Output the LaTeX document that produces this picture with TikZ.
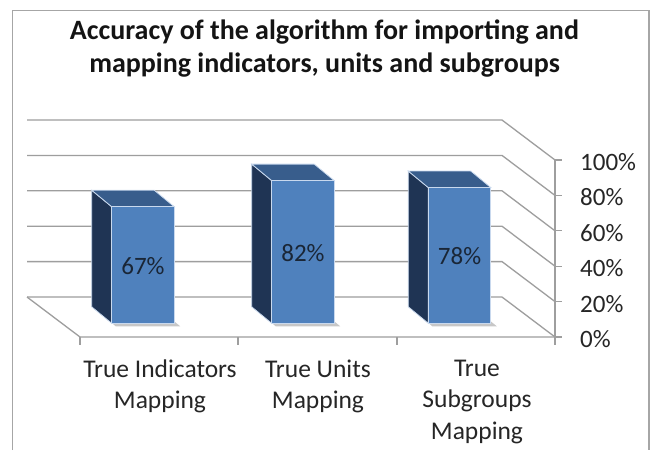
\documentclass[tikz,border=0pt]{standalone}
\usepackage{fontspec}
\setmainfont{Carlito}
\begin{document}
\begin{tikzpicture}[x=1pt,y=-1pt,
  gridline/.style={draw=black!38,line width=1.3pt},
  framebox/.style={draw=black!35,line width=1.3pt},
  frontface/.style={fill=barfront,draw=baredge,line width=1pt},
  sideface/.style={fill=barside,draw=baredge,line width=0.8pt},
  topface/.style={fill=bartop,draw=baredge,line width=0.8pt},
  barshadow/.style={fill=black!22,draw=none},
  tick/.style={draw=black!38,line width=1.3pt},
  valuelabel/.style={font=\fontsize{25}{30}\selectfont,text=labelcol,inner sep=0pt},
  catlabel/.style={font=\fontsize{25.5}{31.5}\selectfont,text=txtcol,align=center,inner sep=0pt,anchor=base},
  axislabel/.style={font=\fontsize{25}{30}\selectfont,text=txtcol,inner sep=0pt,anchor=west},
  titlelabel/.style={font=\fontsize{28}{33}\selectfont\bfseries,text=black!92,align=center,inner sep=0pt,anchor=base}
]
\definecolor{barfront}{HTML}{4F81BD}
\definecolor{barside}{HTML}{1F3454}
\definecolor{bartop}{HTML}{385D8C}
\definecolor{baredge}{HTML}{C9D9EE}
\definecolor{labelcol}{HTML}{1A2636}
\definecolor{txtcol}{HTML}{262626}
\useasboundingbox (0,0) rectangle (653,450);
\fill[white] (0,0) rectangle (653,450);
% frame
\draw[framebox] (12.7,450) -- (12.7,10.7) -- (649,10.7) -- (649,450);
% title (base anchor = last line baseline)
\node[titlelabel] (title) at (324.5,72) {Accuracy of the algorithm for importing and\\mapping indicators, units and subgroups};
% back wall grid lines with side diagonals
\foreach \k in {1,...,5}{
  \draw[gridline] (27,{297-35.4*\k}) -- (502,{297-35.4*\k}) -- (555,{337-35.4*\k});
}
% floor
\draw[gridline] (27,297) -- (502,297) -- (555,337);
\draw[gridline] (27,297) -- (80,337) -- (555,337);
% value axis
\draw[tick] (555,{337-35.4*5}) -- (555,337);
\foreach \k in {0,...,5}{
  \draw[tick] (555,{337-35.4*\k}) -- (562,{337-35.4*\k});
}
% category ticks
\foreach \xx in {80,238,397,555}{
  \draw[tick] (\xx,337) -- (\xx,345);
}
% axis labels
\node[axislabel] (p0)   at (580,{339-35.4*0}) {0\%};
\node[axislabel] (p20)  at (580,{339-35.4*1}) {20\%};
\node[axislabel] (p40)  at (580,{339-35.4*2}) {40\%};
\node[axislabel] (p60)  at (580,{339-35.4*3}) {60\%};
\node[axislabel] (p80)  at (580,{339-35.4*4}) {80\%};
\node[axislabel] (p100) at (580,{339-35.4*5}) {100\%};
% bars
\foreach \L/\v/\nm/\txt in {111.7/0.67/vA/67\%, 271.7/0.82/vB/82\%, 428.3/0.78/vC/78\%}{
  \pgfmathsetmacro{\yt}{323.3-174*\v}
  \pgfmathsetmacro{\R}{\L+62.5}
  % shadow
  \fill[barshadow] (\L-20+5,323.3-16.5+3) -- (\R-20+6,323.3-16.5+3) -- (\R+6,323.3+3) -- (\L+4,323.3+3) -- cycle;
  % side face
  \filldraw[sideface] (\L,\yt) -- (\L-20,\yt-16.5) -- (\L-20,323.3-16.5) -- (\L,323.3) -- cycle;
  % top face
  \filldraw[topface] (\L,\yt) -- (\L-20,\yt-16.5) -- (\R-20,\yt-16.5) -- (\R,\yt) -- cycle;
  % front face
  \filldraw[frontface] (\L,\yt) rectangle (\R,323.3);
  \node[valuelabel] (\nm) at ({(\L+\R)/2},{(\yt+323.3)/2+1}) {\txt};
}
% category labels (base anchor = last line baseline)
\node[catlabel] (cA) at (160,408.5) {True Indicators\\Mapping};
\node[catlabel] (cB) at (318,408.5) {True Units\\Mapping};
\node[catlabel] (cC) at (477,439) {True\\Subgroups\\Mapping};
\end{tikzpicture}
\end{document}
